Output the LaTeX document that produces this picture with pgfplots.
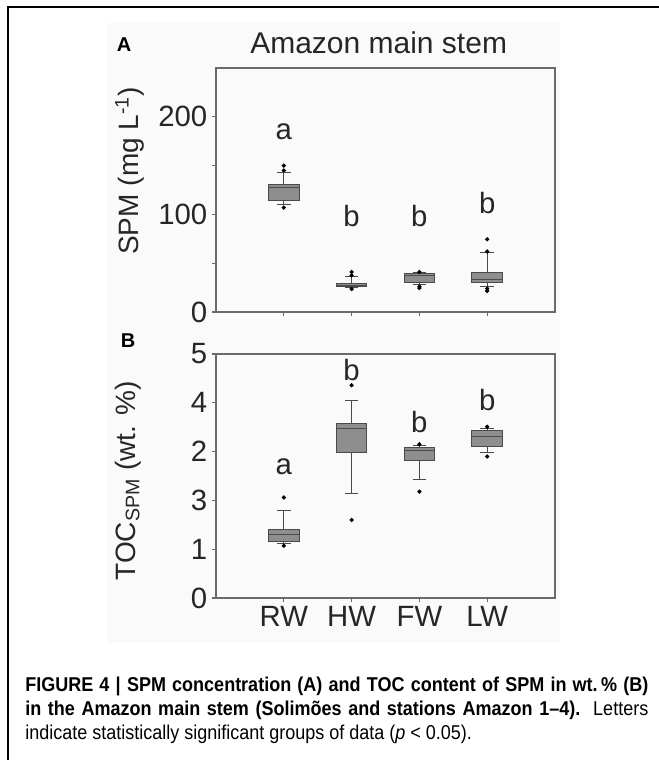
\documentclass[border=0pt]{standalone}
\usepackage{fontspec}
\setmainfont{Liberation Sans}
\newfontfamily\chartfont{Liberation Sans}
\newfontfamily\capbold[FakeStretch=0.9]{Liberation Sans Bold}
\newfontfamily\capreg[FakeStretch=0.9]{Liberation Sans}
\usepackage{pgfplots}
\pgfplotsset{compat=1.18}
\usepgfplotslibrary{statistics}
\definecolor{boxfill}{HTML}{8E8E8E}
\definecolor{boxedge}{HTML}{4A4A4A}
\definecolor{axisgray}{HTML}{6A6A6A}
\definecolor{bggray}{HTML}{FAFAFA}
\tikzset{lettr/.style={font=\chartfont\fontsize{22}{22}\selectfont, text=black!85}}
\pgfplotsset{
  panel/.style={
    width=254.25pt, height=183pt, scale only axis,
    xmin=0, xmax=5, xtick={1,2,3,4},
    axis line style={axisgray, line width=0.9pt},
    tick style={axisgray, line width=0.8pt},
    tick align=outside, tick pos=left,
    major tick length=3pt,
    /pgf/number format/assume math mode=true,
    ticklabel style={font=\chartfont\fontsize{22}{22}\selectfont, text=black!85},
    ylabel style={font=\fontsize{21}{22}\selectfont, text=black!85},
    boxplot/draw direction=y,
    boxplot/box extend=0.45,
    boxplot/whisker extend=0.2,
    boxplot/every box/.style={draw=boxedge, fill=boxfill, line width=0.7pt},
    boxplot/every whisker/.style={draw=boxedge, line width=0.7pt},
    boxplot/every median/.style={draw=black!70, line width=0.7pt},
  },
  bx/.style={solid, mark=*, mark size=1.4pt, mark options={fill=black, draw=black}},
}
\begin{document}
\begin{tikzpicture}
\useasboundingbox (0,0) rectangle (494.25pt,-570pt);
\fill[bggray] (80.25pt,-17.25pt) rectangle (420pt,-482.25pt);
\draw[line width=1.4pt] (6pt,-570pt) -- (6pt,-5.5pt) -- (494.25pt,-5.5pt);
\node[font=\bfseries\fontsize{15}{16}\selectfont, anchor=center] at (93pt,-33.5pt) {A};
\node[font=\chartfont\fontsize{22.5}{23}\selectfont, text=black!85, anchor=center] at (284pt,-32pt) {Amazon main stem};
\node[font=\bfseries\fontsize{15}{16}\selectfont, anchor=center] at (96pt,-255.5pt) {B};

% Panel A
\begin{axis}[panel, at={(162pt,-51pt)}, anchor=north west,
  ymin=0, ymax=250, ytick={0,50,100,150,200}, yticklabels={0,,100,,200},
  xticklabels={},
  ylabel={SPM (mg L\textsuperscript{-1})},
  ylabel style={at={(axis description cs:-0.254,0.578)}, anchor=center}]
\addplot[bx, boxplot prepared={draw position=1, lower whisker=110, lower quartile=114, median=127.5, upper quartile=130.5, upper whisker=143}]
  table[row sep=\\, y index=0] {y\\ 107\\ 145\\ 150\\};
\addplot[bx, boxplot prepared={draw position=2, lower whisker=25, lower quartile=26, median=27.5, upper quartile=29.5, upper whisker=36}]
  table[row sep=\\, y index=0] {y\\ 23.5\\ 37.5\\ 41\\};
\addplot[bx, boxplot prepared={draw position=3, lower whisker=28.5, lower quartile=30.5, median=37, upper quartile=39.5, upper whisker=40}]
  table[row sep=\\, y index=0] {y\\ 24.5\\ 26\\ 41\\};
\addplot[bx, boxplot prepared={draw position=4, lower whisker=26.5, lower quartile=30.5, median=33.5, upper quartile=40.5, upper whisker=61}]
  table[row sep=\\, y index=0] {y\\ 21.5\\ 24\\ 62\\ 74.5\\};
\node[lettr] at (axis cs:1,185) {a};
\node[lettr] at (axis cs:2,98) {b};
\node[lettr] at (axis cs:3,98) {b};
\node[lettr] at (axis cs:4,112) {b};
\end{axis}

% Panel B
\begin{axis}[panel, at={(162pt,-265.5pt)}, anchor=north west,
  ymin=0, ymax=5, ytick={0,1,2,3,4,5}, yticklabels={0,1,3,2,4,5},
  xticklabels={RW,HW,FW,LW},
  ylabel={TOC\textsubscript{SPM} (wt. \%)},
  ylabel style={at={(axis description cs:-0.26,0.48)}, anchor=center}]
\addplot[bx, boxplot prepared={draw position=1, lower whisker=1.12, lower quartile=1.15, median=1.30, upper quartile=1.41, upper whisker=1.80}]
  table[row sep=\\, y index=0] {y\\ 1.07\\ 2.06\\};
\addplot[bx, boxplot prepared={draw position=2, lower whisker=2.15, lower quartile=2.99, median=3.48, upper quartile=3.58, upper whisker=4.04}]
  table[row sep=\\, y index=0] {y\\ 1.60\\ 4.36\\};
\addplot[bx, boxplot prepared={draw position=3, lower whisker=2.43, lower quartile=2.81, median=3.03, upper quartile=3.09, upper whisker=3.12}]
  table[row sep=\\, y index=0] {y\\ 2.18\\ 3.15\\};
\addplot[bx, boxplot prepared={draw position=4, lower whisker=2.98, lower quartile=3.11, median=3.31, upper quartile=3.43, upper whisker=3.47}]
  table[row sep=\\, y index=0] {y\\ 2.90\\ 3.51\\};
\node[lettr] at (axis cs:1,2.69) {a};
\node[lettr] at (axis cs:2,4.67) {b};
\node[lettr] at (axis cs:3,3.61) {b};
\node[lettr] at (axis cs:4,4.06) {b};
\end{axis}

% Caption
\node[anchor=base west, inner sep=0pt, font=\fontsize{15}{18}\selectfont] at (18.75pt,-518.5pt)
  {\hbox to 467.25pt{\capbold FIGURE 4 | SPM concentration (A) and TOC content of SPM in wt.\,\% (B)}};
\node[anchor=base west, inner sep=0pt, font=\fontsize{15}{18}\selectfont] at (18.75pt,-536.5pt)
  {\hbox to 467.25pt{{\capbold in the Amazon main stem (Solimões and stations Amazon 1–4).} {\capreg Letters}}};
\node[anchor=base west, inner sep=0pt, font=\fontsize{15}{18}\selectfont] at (18.75pt,-554.5pt)
  {\capreg indicate statistically significant groups of data (\textit{p} < 0.05).};
\end{tikzpicture}
\end{document}
